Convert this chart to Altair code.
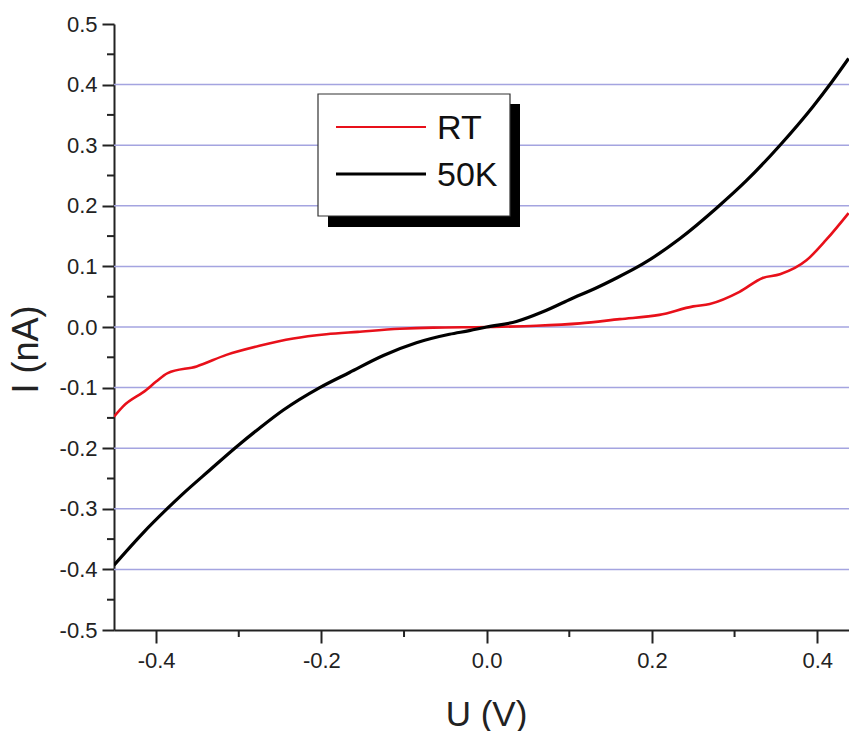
import altair as alt
import pandas as pd

# I-V sweeps: bias voltage U (V) and current I (nA)
u_rt = [-0.451, -0.440, -0.412, -0.400, -0.386, -0.351, -0.315, -0.275, -0.234, -0.194,
        -0.156, -0.105, -0.065, 0.000, 0.060, 0.113, 0.161, 0.209, 0.250, 0.270,
        0.306, 0.334, 0.355, 0.387, 0.411, 0.438]
i_rt = [-0.148, -0.131, -0.104, -0.090, -0.076, -0.065, -0.046, -0.031, -0.019, -0.012,
        -0.008, -0.003, -0.001, 0.000, 0.002, 0.006, 0.013, 0.020, 0.034, 0.038,
        0.058, 0.081, 0.087, 0.110, 0.144, 0.188]

u_50k = [-0.451, -0.416, -0.386, -0.369, -0.335, -0.303, -0.275, -0.246, -0.202, -0.166,
         -0.125, -0.085, -0.045, -0.021, 0.000, 0.036, 0.068, 0.100, 0.135, 0.153,
         0.189, 0.234, 0.278, 0.314, 0.355, 0.395, 0.417, 0.438]
i_50k = [-0.393, -0.340, -0.299, -0.277, -0.236, -0.198, -0.167, -0.137, -0.100, -0.075,
         -0.047, -0.026, -0.012, -0.006, 0.000, 0.009, 0.025, 0.045, 0.066, 0.078,
         0.104, 0.146, 0.196, 0.241, 0.300, 0.364, 0.403, 0.443]

series_names = ["RT", "50K"]
series_colors = ["#e8101a", "#000000"]

y_major = [-0.5, -0.4, -0.3, -0.2, -0.1, 0.0, 0.1, 0.2, 0.3, 0.4, 0.5]
y_minor = [-0.45, -0.35, -0.25, -0.15, -0.05, 0.05, 0.15, 0.25, 0.35, 0.45]
y_grid = [-0.4, -0.3, -0.2, -0.1, 0.0, 0.1, 0.2, 0.3, 0.4]
x_major = [-0.4, -0.2, 0.0, 0.2, 0.4]
x_minor = [-0.3, -0.1, 0.1, 0.3]

W, H = 735, 606
FONT = "Liberation Sans"
MINUS_FIX = "replace(format(datum.value, '.1f'), '\u2212', '-')"

xscale = alt.Scale(domain=[-0.451, 0.4385], nice=False, zero=False)
yscale = alt.Scale(domain=[-0.5, 0.5], nice=False, zero=False)

x_axis = alt.Axis(
    values=x_major, labelExpr=MINUS_FIX, title="U (V)",
    tickSize=13, tickWidth=2, tickColor="#222", domainColor="#222", domainWidth=2,
    labelFont=FONT, labelFontSize=22, labelColor="#222", labelPadding=7,
    titleFont=FONT, titleFontSize=35, titleFontWeight="normal", titleColor="#222",
    titleX=372, titleY=84, titleBaseline="middle", titleAlign="center",
    grid=False,
)
y_axis = alt.Axis(
    values=y_major, labelExpr=MINUS_FIX, title="I (nA)",
    tickSize=12, tickWidth=2, tickColor="#222", domainColor="#222", domainWidth=2,
    labelFont=FONT, labelFontSize=22, labelColor="#222", labelPadding=5,
    titleFont=FONT, titleFontSize=36, titleFontWeight="normal", titleColor="#222",
    titleX=-88, titleY=325, titleAngle=270, titleBaseline="middle", titleAlign="center",
    grid=False,
)

X = lambda f: alt.X(f, scale=xscale, axis=x_axis, title="U (V)")
Y = lambda f: alt.Y(f, scale=yscale, axis=y_axis, title="I (nA)")

df_rt = pd.DataFrame({"U": u_rt, "I": i_rt})
df_50k = pd.DataFrame({"U": u_50k, "I": i_50k})

grid = alt.Chart(pd.DataFrame({"v": y_grid})).mark_rule(
    color="#a4a4e0", strokeWidth=1.5
).encode(y=Y("v:Q"))

y_minor_ticks = alt.Chart(pd.DataFrame({"v": y_minor})).mark_rule(
    color="#222", strokeWidth=2
).encode(y=Y("v:Q"), x=alt.value(-7), x2=alt.value(0))

x_minor_ticks = alt.Chart(pd.DataFrame({"v": x_minor})).mark_rule(
    color="#222", strokeWidth=2
).encode(x=X("v:Q"), y=alt.value(H), y2=alt.value(H + 7))

line_rt = alt.Chart(df_rt).mark_line(
    color=series_colors[0], strokeWidth=2.6, clip=True, interpolate="monotone"
).encode(x=X("U:Q"), y=Y("I:Q"))

line_50k = alt.Chart(df_50k).mark_line(
    color=series_colors[1], strokeWidth=3.2, clip=True, interpolate="monotone"
).encode(x=X("U:Q"), y=Y("I:Q"))

# Legend panel with a drop shadow
one = pd.DataFrame({"k": [0]})
shadow = alt.Chart(one).mark_rect(fill="#000000").encode(
    x=alt.value(214), x2=alt.value(406), y=alt.value(80), y2=alt.value(203)
)
box = alt.Chart(one).mark_rect(fill="white", stroke="#333", strokeWidth=1.2).encode(
    x=alt.value(204), x2=alt.value(396), y=alt.value(70), y2=alt.value(192)
)

legend_rows = [103, 150]
legend_layers = []
for name, col, ry, sw in zip(series_names, series_colors, legend_rows, [2.2, 3.0]):
    d = pd.DataFrame({"name": [name]})
    legend_layers.append(
        alt.Chart(d).mark_rule(color=col, strokeWidth=sw).encode(
            x=alt.value(222), x2=alt.value(312), y=alt.value(ry)
        )
    )
    legend_layers.append(
        alt.Chart(d).mark_text(
            align="left", baseline="middle", font=FONT, fontSize=34, color="#111"
        ).encode(x=alt.value(323), y=alt.value(ry + 2), text="name:N")
    )

chart = alt.layer(
    grid, y_minor_ticks, x_minor_ticks, line_rt, line_50k, shadow, box, *legend_layers
).properties(
    width=W, height=H,
    autosize=alt.AutoSizeParams(type="none"),
    padding={"left": 114, "top": 24, "right": 0, "bottom": 101},
    background="white",
).configure_view(strokeWidth=0)

chart.save("out.html", embed_options={"renderer": "svg", "actions": False})
